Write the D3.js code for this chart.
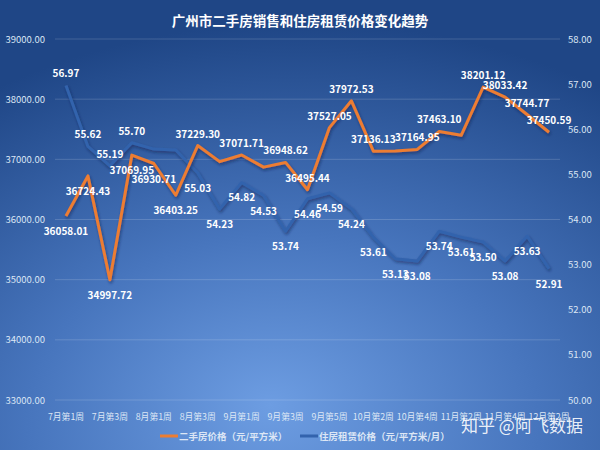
<!DOCTYPE html>
<html>
<head>
<meta charset="utf-8">
<script src="https://cdn.jsdelivr.net/npm/d3@7/dist/d3.min.js"></script>
<style>
  html, body { margin: 0; padding: 0; background: #2a5597; }
  svg { display: block; }
  text { font-family: "Noto Sans CJK SC", "Noto Sans", sans-serif; }
</style>
</head>
<body>
<script>
// ---- data ----
const categories = [
  "7月第1周","7月第2周","7月第3周","7月第4周",
  "8月第1周","8月第2周","8月第3周","8月第4周",
  "9月第1周","9月第2周","9月第3周","9月第4周","9月第5周",
  "10月第1周","10月第2周","10月第3周","10月第4周",
  "11月第1周","11月第2周","11月第3周","11月第4周",
  "12月第1周","12月第2周"
];
const salePrice = [
  36058.01, 36724.43, 34997.72, 37069.95, 36930.71, 36403.25, 37229.30, 36962.00,
  37071.71, 36870.00, 36948.62, 36495.44, 37527.05, 37972.53, 37136.13, 37140.00,
  37164.95, 37463.10, 37400.00, 38201.12, 38033.42, 37744.77, 37450.59
];
const rentPrice = [
  56.97, 55.62, 55.19, 55.70, 55.56, 55.54, 55.03, 54.23,
  54.82, 54.53, 53.74, 54.46, 54.59, 54.24, 53.61, 53.13,
  53.08, 53.74, 53.61, 53.50, 53.08, 53.63, 52.91
];
const leftTicks = [33000, 34000, 35000, 36000, 37000, 38000, 39000];
const rightTicks = [50, 51, 52, 53, 54, 55, 56, 57, 58];
const title = "广州市二手房销售和住房租赁价格变化趋势";
const seriesNames = ["二手房价格（元/平方米）", "住房租赁价格（元/平方米/月）"];
const watermark = "知乎 @阿飞数据";

// ---- layout ----
const W = 600, H = 450;
const plot = { left: 55, right: 560, top: 39, bottom: 400 };
const saleColor = "#ED7D31", rentColor = "#3363ad";
const saleHidden = new Set([7, 9, 15, 18]);
const rentHidden = new Set([4, 5]);
const saleBelow = i => i <= 5;
const rentAbove = i => i <= 3;

const svg = d3.select("body").append("svg").attr("width", W).attr("height", H);
const defs = svg.append("defs");
const bg = defs.append("radialGradient").attr("id", "bg")
  .attr("cx", "50%").attr("cy", "100%").attr("r", "95%")
  .attr("fx", "45%").attr("fy", "90%");
bg.append("stop").attr("offset", "0%").attr("stop-color", "#6d9de2");
bg.append("stop").attr("offset", "45%").attr("stop-color", "#4775bd");
bg.append("stop").attr("offset", "100%").attr("stop-color", "#1f4686");
const sh = defs.append("filter").attr("id", "sh").attr("x", "-10%").attr("y", "-10%").attr("width", "120%").attr("height", "130%");
sh.append("feDropShadow").attr("dx", 1).attr("dy", 2).attr("stdDeviation", 1.5)
  .attr("flood-color", "#0d234d").attr("flood-opacity", 0.55);

svg.append("rect").attr("width", W).attr("height", H).attr("fill", "url(#bg)");

const x = d3.scaleBand().domain(categories).range([plot.left, plot.right]).padding(0);
const cx = d => x(d) + x.bandwidth() / 2;
const yL = d3.scaleLinear().domain([33000, 39000]).range([plot.bottom, plot.top]);
const yR = d3.scaleLinear().domain([50, 58]).range([plot.bottom, plot.top]);

// gridlines
svg.append("g").selectAll("line").data(leftTicks).join("line")
  .attr("x1", plot.left).attr("x2", plot.right)
  .attr("y1", d => yL(d)).attr("y2", d => yL(d))
  .attr("stroke", "rgba(255,255,255,0.16)").attr("stroke-width", 1);

// axes
const axL = svg.append("g").attr("transform", `translate(${plot.left - 8},0)`)
  .call(d3.axisLeft(yL).tickValues(leftTicks).tickFormat(d3.format(".2f")).tickSize(0).tickPadding(2));
const axR = svg.append("g").attr("transform", `translate(${plot.right + 6},0)`)
  .call(d3.axisRight(yR).tickValues(rightTicks).tickFormat(d3.format(".2f")).tickSize(0).tickPadding(2));
const axB = svg.append("g").attr("transform", `translate(0,${plot.bottom + 8})`)
  .call(d3.axisBottom(x).tickValues(categories.filter((d, i) => i % 2 === 0)).tickSize(0).tickPadding(6));
[axL, axR, axB].forEach(a => {
  a.select(".domain").remove();
  a.selectAll("text").attr("fill", "#dce6f5").attr("font-size", 9.5);
});
axB.selectAll("text").attr("font-size", 8.8);

// lines
const saleLine = d3.line().x((d, i) => cx(categories[i])).y(d => yL(d));
const rentLine = d3.line().x((d, i) => cx(categories[i])).y(d => yR(d));
svg.append("path").datum(rentPrice).attr("d", rentLine)
  .attr("fill", "none").attr("stroke", rentColor).attr("stroke-width", 3)
  .attr("stroke-linejoin", "round").attr("filter", "url(#sh)");
svg.append("path").datum(salePrice).attr("d", saleLine)
  .attr("fill", "none").attr("stroke", saleColor).attr("stroke-width", 3)
  .attr("stroke-linejoin", "round").attr("filter", "url(#sh)");

// data labels
svg.append("g").selectAll("text").data(rentPrice.map((v, i) => ({ v, i })).filter(d => !rentHidden.has(d.i)))
  .join("text")
  .attr("x", d => cx(categories[d.i]))
  .attr("y", d => yR(d.v) + (rentAbove(d.i) ? -8 : 19))
  .attr("text-anchor", "middle").attr("fill", "#ffffff")
  .attr("font-size", 10).attr("font-weight", "bold")
  .text(d => d.v.toFixed(2));
svg.append("g").selectAll("text").data(salePrice.map((v, i) => ({ v, i })).filter(d => !saleHidden.has(d.i)))
  .join("text")
  .attr("x", d => cx(categories[d.i]))
  .attr("y", d => yL(d.v) + (saleBelow(d.i) ? 19 : -8))
  .attr("text-anchor", "middle").attr("fill", "#ffffff")
  .attr("font-size", 10).attr("font-weight", "bold")
  .text(d => d.v.toFixed(2));

// title
svg.append("text").attr("x", 300).attr("y", 26).attr("text-anchor", "middle")
  .attr("fill", "#ffffff").attr("font-size", 13.5).attr("font-weight", "bold").text(title);

// legend
const lg = svg.append("g");
[[160, saleColor, seriesNames[0]], [300, rentColor, seriesNames[1]]].forEach(([lx, c, t]) => {
  lg.append("line").attr("x1", lx).attr("x2", lx + 18).attr("y1", 436).attr("y2", 436)
    .attr("stroke", c).attr("stroke-width", 3);
  lg.append("text").attr("x", lx + 19).attr("y", 440).attr("fill", "#dce6f5")
    .attr("font-size", 9.5).attr("font-weight", "bold").text(t);
});

// watermark
svg.append("text").attr("x", 461).attr("y", 432).attr("fill", "rgba(255,255,255,0.9)")
  .attr("font-size", 17).text(watermark);
</script>
</body>
</html>
